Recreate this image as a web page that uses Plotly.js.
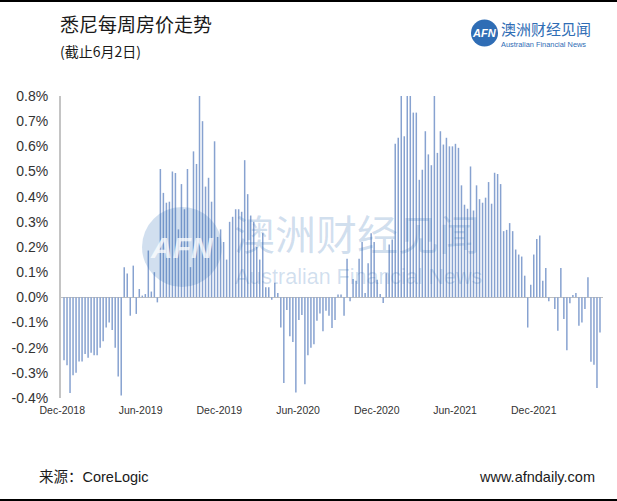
<!DOCTYPE html>
<html>
<head>
<meta charset="utf-8">
<script src="https://cdn.plot.ly/plotly-3.0.1.min.js"></script>
<style>
html,body{margin:0;padding:0;background:#fff;}
#chart{width:617px;height:501px;}
</style>
</head>
<body>
<div id="chart"></div>
<script>
// ---- data ----
const firstWeek = '2018-12-05';
const weeklyChange = [
 -0.25,-0.27,-0.38,-0.31,-0.30,-0.255,-0.255,-0.225,-0.24,-0.22,
 -0.23,-0.23,-0.20,-0.175,-0.12,-0.10,-0.13,-0.20,-0.315,-0.39,
 0.12,0.095,-0.073,0.126,-0.066,0.033,0.007,0.013,0.186,0.023,
 0.10,-0.02,0.51,0.415,0.376,0.38,0.50,0.494,0.27,0.45,
 0.35,0.51,0.12,0.58,0.53,0.80,0.70,0.44,0.475,0.38,
 0.62,0.24,0.27,0.22,0.15,0.30,0.32,0.35,0.35,0.34,
 0.545,0.41,0.325,0.30,0.20,0.15,0.255,0.04,0.04,-0.01,
 0.058,0.017,-0.12,-0.34,-0.05,-0.155,-0.177,-0.378,-0.09,-0.07,
 -0.345,-0.23,-0.20,-0.186,-0.093,-0.064,-0.135,-0.053,-0.073,-0.122,
 -0.09,0.011,0.011,-0.073,0.153,-0.016,0.073,0.066,0.153,0.22,
 0.017,0.135,0.255,0.22,0.07,0.013,-0.023,0.096,0.21,0.23,
 0.61,0.634,0.80,0.64,0.80,0.80,0.734,0.734,0.467,0.507,
 0.66,0.568,0.525,0.80,0.574,0.66,0.607,0.634,0.60,0.60,
 0.61,0.594,0.445,0.368,0.352,0.52,0.345,0.445,0.39,0.376,
 0.396,0.458,0.372,0.495,0.49,0.45,0.263,0.268,0.295,0.263,
 0.19,0.17,0.162,0.086,-0.12,0.05,0.17,0.232,0.246,0.066,
 0.117,-0.016,0,-0.046,-0.133,0.117,-0.086,-0.21,-0.024,0.009,
 0.017,-0.113,-0.10,-0.046,0.08,-0.256,-0.268,-0.36,-0.14
];
const xTickDates = ['2018-12-01','2019-06-01','2019-12-01','2020-06-01','2020-12-01','2021-06-01','2021-12-01'];
const xTickLabels = ['Dec-2018','Jun-2019','Dec-2019','Jun-2020','Dec-2020','Jun-2021','Dec-2021'];
const yTickValues = [-0.4,-0.3,-0.2,-0.1,0,0.1,0.2,0.3,0.4,0.5,0.6,0.7,0.8];
const yTickLabels = ['-0.4%','-0.3%','-0.2%','-0.1%','0.0%','0.1%','0.2%','0.3%','0.4%','0.5%','0.6%','0.7%','0.8%'];

// weekly category dates
const start = Date.parse(firstWeek + 'T00:00:00Z');
const weekDates = weeklyChange.map((_, i) => new Date(start + i * 7 * 86400000).toISOString().slice(0, 10));

// ---- layout helpers (pixel -> paper) ----
const W = 617, H = 501, M = {l: 61, r: 14, t: 96, b: 103};
const PW = W - M.l - M.r, PH = H - M.t - M.b;
const px = x => (x - M.l) / PW;
const py = y => (H - M.b - y) / PH;

const blue = '#2f6db5';
const wm = 'rgba(47,109,181,0.22)';
const cjk = '"Noto Sans CJK SC", "Liberation Sans", sans-serif';
const lat = '"Liberation Sans", Arial, "Noto Sans CJK SC", sans-serif';

const trace = {
  type: 'bar',
  x: weekDates,
  y: weeklyChange,
  marker: {color: '#87a2d0', line: {width: 0}},
  hoverinfo: 'skip'
};

const layout = {
  width: W, height: H,
  margin: M,
  paper_bgcolor: '#fff', plot_bgcolor: '#fff',
  showlegend: false,
  bargap: 0.5,
  xaxis: {
    type: 'date',
    range: ['2018-11-28', '2022-05-11'],
    showgrid: false, zeroline: false, showline: false,
    tickvals: xTickDates, ticktext: xTickLabels,
    ticks: '', ticklabelstandoff: 4,
    tickfont: {family: lat, size: 10.5, color: '#333'}
  },
  yaxis: {
    range: [-0.4, 0.8],
    tickvals: yTickValues, ticktext: yTickLabels,
    showgrid: false,
    zeroline: true, zerolinecolor: '#bfbfbf', zerolinewidth: 1.5,
    showline: true, linecolor: '#c4c4c4', linewidth: 2,
    ticks: '', ticklabelstandoff: 8,
    tickfont: {family: lat, size: 14, color: '#333'}
  },
  shapes: [
    {type: 'line', xref: 'paper', yref: 'paper', x0: px(0), x1: px(W), y0: py(1), y1: py(1), line: {color: '#000', width: 2}},
    {type: 'line', xref: 'paper', yref: 'paper', x0: px(0), x1: px(W), y0: py(500), y1: py(500), line: {color: '#000', width: 2}},
    {type: 'circle', xref: 'paper', yref: 'paper', x0: px(471), x1: px(498), y0: py(46.5), y1: py(19.5), fillcolor: blue, line: {width: 0}},
    {type: 'circle', xref: 'paper', yref: 'paper', layer: 'above', x0: px(142), x1: px(222), y0: py(287), y1: py(207), fillcolor: wm, line: {width: 0}}
  ],
  annotations: [
    {xref: 'paper', yref: 'paper', x: px(58), y: py(24), xanchor: 'left', yanchor: 'middle', showarrow: false,
     text: '悉尼每周房价走势', font: {family: cjk, size: 19, color: '#1a1a1a'}},
    {xref: 'paper', yref: 'paper', x: px(58), y: py(51), xanchor: 'left', yanchor: 'middle', showarrow: false,
     text: '(截止6月2日)', font: {family: cjk, size: 14, color: '#1a1a1a'}},
    {xref: 'paper', yref: 'paper', x: px(484.5), y: py(33), xanchor: 'center', yanchor: 'middle', showarrow: false,
     text: '<b><i>AFN</i></b>', font: {family: lat, size: 11, color: '#fff'}},
    {xref: 'paper', yref: 'paper', x: px(499), y: py(28.5), xanchor: 'left', yanchor: 'middle', showarrow: false,
     text: '澳洲财经见闻', font: {family: cjk, size: 15, color: blue}},
    {xref: 'paper', yref: 'paper', x: px(499), y: py(44), xanchor: 'left', yanchor: 'middle', showarrow: false,
     text: 'Australian Financial News', font: {family: lat, size: 7.4, color: blue}},
    {xref: 'paper', yref: 'paper', x: px(182), y: py(247), xanchor: 'center', yanchor: 'middle', showarrow: false,
     text: '<b><i>AFN</i></b>', font: {family: lat, size: 30, color: 'rgba(255,255,255,0.75)'}},
    {xref: 'paper', yref: 'paper', x: px(357), y: py(232), xanchor: 'center', yanchor: 'middle', showarrow: false,
     text: '澳洲财经见闻', font: {family: cjk, size: 41, color: wm}},
    {xref: 'paper', yref: 'paper', x: px(358), y: py(277), xanchor: 'center', yanchor: 'middle', showarrow: false,
     text: 'Australian Financial News', font: {family: lat, size: 21.5, color: wm}},
    {xref: 'paper', yref: 'paper', x: px(37), y: py(477), xanchor: 'left', yanchor: 'middle', showarrow: false,
     text: '来源：CoreLogic', font: {family: lat, size: 14.5, color: '#1a1a1a'}},
    {xref: 'paper', yref: 'paper', x: px(597), y: py(477), xanchor: 'right', yanchor: 'middle', showarrow: false,
     text: 'www.afndaily.com', font: {family: lat, size: 14.5, color: '#1a1a1a'}}
  ]
};

Plotly.newPlot('chart', [trace], layout, {staticPlot: true, displayModeBar: false});
</script>
</body>
</html>
